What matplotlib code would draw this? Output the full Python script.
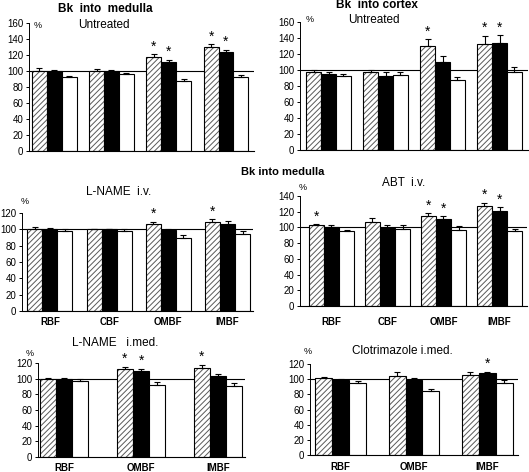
"""
Bradykinin infusion: regional blood flow responses (% of baseline)
"""

import matplotlib.pyplot as plt
import numpy as np

plt.rcParams["font.family"] = ["Liberation Sans", "DejaVu Sans"]
plt.rcParams["hatch.linewidth"] = 0.7

W, H = 529, 472

cats4 = ["RBF", "CBF", "OMBF", "IMBF"]
cats3 = ["RBF", "OMBF", "IMBF"]

# series order: hatched, black, white
med_untr_mean = [[100, 100, 118, 130], [100, 100, 111, 124], [92, 96, 88, 92.5]]
med_untr_err = [[3.5, 2, 3, 3.5], [1, 1, 3, 2.5], [2, 1, 2, 2.5]]
med_untr_stars = [(2, 0), (2, 1), (3, 0), (3, 1)]

ctx_untr_mean = [[97, 97, 129.5, 133], [95, 93, 110, 133.5], [92, 93.5, 87.5, 97]]
ctx_untr_err = [[3, 3, 9, 10], [3, 4, 8, 10], [3, 4.5, 3.5, 7]]
ctx_untr_stars = [(2, 0), (3, 0), (3, 1)]

lname_iv_mean = [[101, 100, 106.5, 109.5], [100, 100, 99, 106], [98, 98, 90, 94]]
lname_iv_err = [[2, 1, 3, 3], [2, 0, 1, 4], [2, 2, 3, 4]]
lname_iv_stars = [(2, 0), (3, 0)]

abt_iv_mean = [[103, 106.5, 114, 127.5], [100, 99.5, 111, 121.5], [95, 97.5, 96.5, 95]]
abt_iv_err = [[1.2, 6, 4, 4], [2.5, 3, 3, 4.5], [2, 5, 5.5, 2.5]]
abt_iv_stars = [(0, 0), (2, 0), (2, 1), (3, 0), (3, 1)]

lname_imed_mean = [[100, 112.5, 114], [100, 110, 103], [97.5, 92, 91]]
lname_imed_err = [[1, 2.5, 4], [1, 2.5, 3.5], [2.5, 4, 4]]
lname_imed_stars = [(1, 0), (1, 1), (2, 0)]

clot_imed_mean = [[101, 104, 106], [99, 99, 108], [95.5, 84.5, 95]]
clot_imed_err = [[1.3, 5, 4], [1, 3, 2], [2, 3, 4.5]]
clot_imed_stars = [(2, 1)]

fig = plt.figure(figsize=(W / 100, H / 100), dpi=100)


def px_rect(x0, y0, x1, y1):
    return [x0 / W, 1 - y1 / H, (x1 - x0) / W, (y1 - y0) / H]


def ftext(x, y, s, **kw):
    kw.setdefault("ha", "center")
    kw.setdefault("va", "center")
    fig.text(x / W, 1 - y / H, s, **kw)


def draw_panel(rect, cats, means, errs, stars, ymax, width, pad_l, pad_r,
               show_labels=False, label_pad=4):
    ax = fig.add_axes(px_rect(*rect))
    n = len(cats)
    x = np.arange(n)
    for i in range(3):
        pos = x + (i - 1) * width
        if i == 0:
            # grey hatch lines, black outline drawn separately
            ax.bar(pos, means[i], width, facecolor="white", hatch="//////",
                   edgecolor="0.35", linewidth=0, zorder=2)
            ax.bar(pos, means[i], width, fill=False, edgecolor="black",
                   linewidth=0.8, zorder=2)
        else:
            fc = "black" if i == 1 else "white"
            ax.bar(pos, means[i], width, facecolor=fc, edgecolor="black",
                   linewidth=0.8, zorder=2)
        ax.errorbar(pos, means[i], yerr=[np.zeros(n), errs[i]], fmt="none",
                    ecolor="black", elinewidth=0.8, capsize=2.5,
                    capthick=0.8, zorder=3)
    for g, s in stars:
        pos = x[g] + (s - 1) * width
        ax.annotate("*", (pos, means[s][g] + errs[s][g]), xytext=(0, 0.5),
                    textcoords="offset points", ha="center", va="bottom",
                    fontsize=10)
    ax.axhline(100, color="black", lw=0.8, zorder=1)
    ax.set_xlim(-pad_l, n - 1 + pad_r)
    ax.set_ylim(0, ymax)
    ax.set_yticks(np.arange(0, ymax + 1, 20))
    ax.tick_params(axis="y", labelsize=7, length=2.5, width=0.7, pad=1.5)
    ax.spines["top"].set_visible(False)
    ax.spines["right"].set_visible(False)
    ax.spines["left"].set_linewidth(0.7)
    ax.spines["bottom"].set_linewidth(0.8)
    if show_labels:
        ax.set_xticks(x)
        ax.set_xticklabels(cats, fontweight="bold", fontsize=7)
        ax.tick_params(axis="x", length=0, pad=label_pad)
    else:
        ax.set_xticks([])
    return ax


# top row
draw_panel((29, 23, 254, 151), cats4, med_untr_mean, med_untr_err,
           med_untr_stars, 160, 0.26, 0.44, 0.49)
draw_panel((300, 22, 528, 150), cats4, ctx_untr_mean, ctx_untr_err,
           ctx_untr_stars, 160, 0.263, 0.5, 0.5)
ftext(105, 9, "Bk  into  medulla", fontweight="bold", fontsize=8.5)
ftext(104, 25, "Untreated", fontsize=8.5)
ftext(38, 25, "%", fontsize=6.5)
ftext(377, 5, "Bk  into cortex", fontweight="bold", fontsize=8.5)
ftext(374, 20, "Untreated", fontsize=8.5)
ftext(310, 20, "%", fontsize=6.5)

# middle row
ftext(283, 172, "Bk into medulla", fontweight="bold", fontsize=8)
draw_panel((22, 213, 253, 311), cats4, lname_iv_mean, lname_iv_err,
           lname_iv_stars, 120, 0.254, 0.47, 0.43, True, 4.5)
draw_panel((300, 196, 527, 306), cats4, abt_iv_mean, abt_iv_err,
           abt_iv_stars, 140, 0.27, 0.56, 0.49, True, 8)
ftext(119, 192, "L-NAME  i.v.", fontsize=8.5)
ftext(25, 202, "%", fontsize=6.5)
ftext(404, 183, "ABT  i.v.", fontsize=8.5)
ftext(303, 188, "%", fontsize=6.5)

# bottom row
draw_panel((38, 363, 245, 457), cats3, lname_imed_mean, lname_imed_err,
           lname_imed_stars, 120, 0.21, 0.34, 0.35, True, 4)
draw_panel((310, 364, 518, 455), cats3, clot_imed_mean, clot_imed_err,
           clot_imed_stars, 120, 0.23, 0.42, 0.42, True, 5)
ftext(115, 343, "L-NAME   i.med.", fontsize=8.5)
ftext(30, 353, "%", fontsize=6.5)
ftext(402, 351, "Clotrimazole i.med.", fontsize=8.5)
ftext(308, 352, "%", fontsize=6.5)

fig.savefig("out.png", dpi=100)
plt.close(fig)
